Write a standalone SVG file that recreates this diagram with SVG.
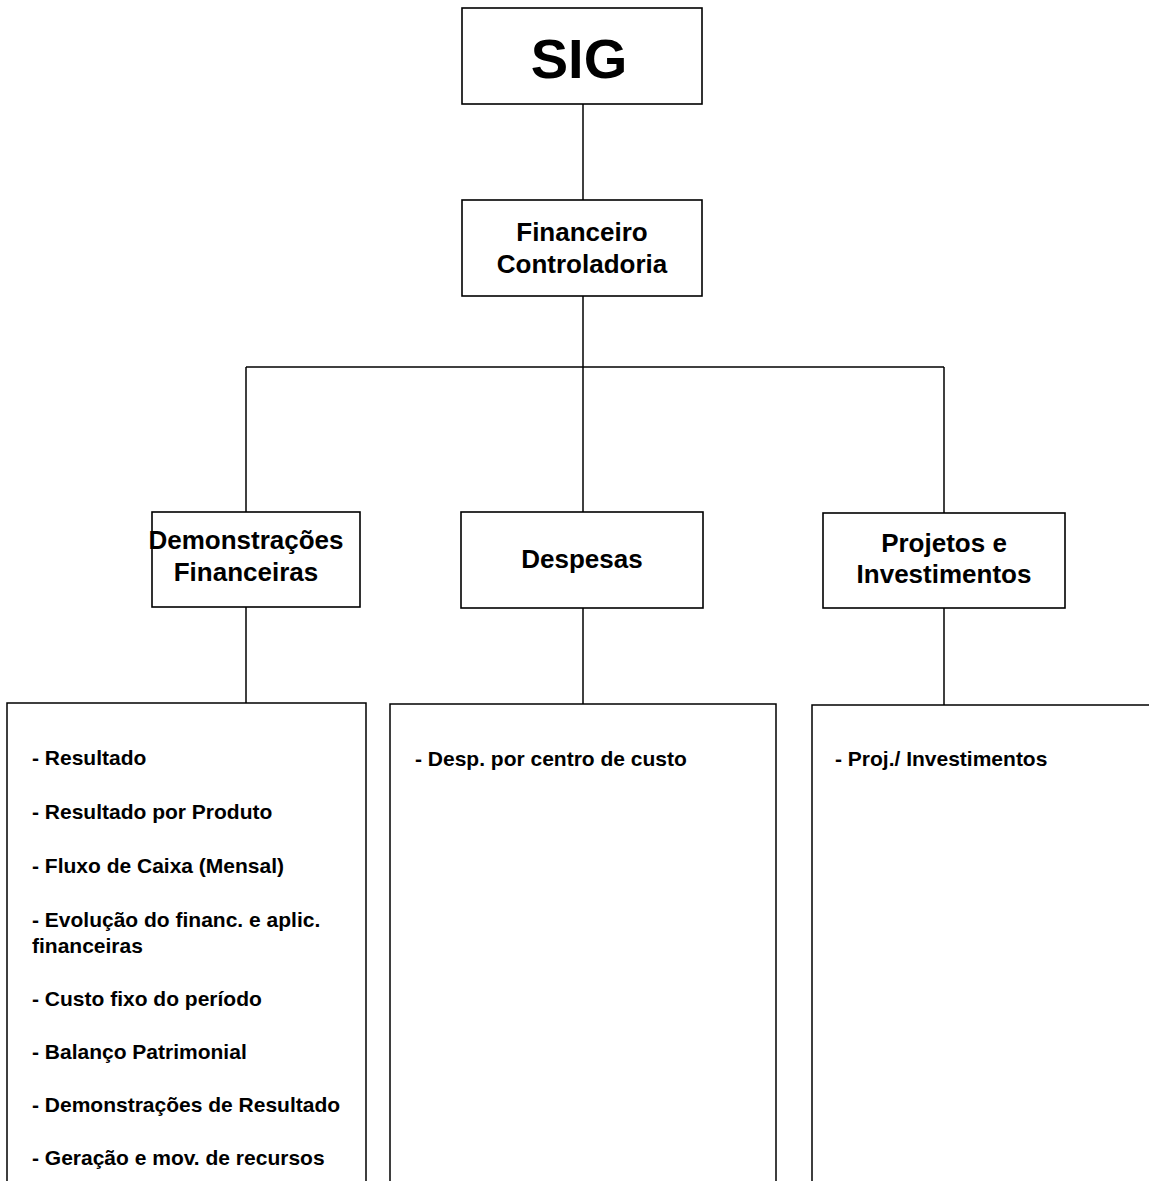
<svg xmlns="http://www.w3.org/2000/svg" width="1149" height="1181" viewBox="0 0 1149 1181">
<style>
.box{fill:#fff;stroke:#000;stroke-width:1.6}
.ln{fill:none;stroke:#000;stroke-width:1.5}
text{font-family:"Liberation Sans",Arial,sans-serif;font-weight:bold;fill:#000}
.h{font-size:26px;text-anchor:middle}
.t{font-size:21px}
</style>
<rect width="1149" height="1181" fill="#fff"/>
<g id="connectors">
<line class="ln" x1="583" y1="104" x2="583" y2="200"/>
<line class="ln" x1="583" y1="296" x2="583" y2="367"/>
<line class="ln" x1="246" y1="367" x2="944" y2="367"/>
<line class="ln" x1="246" y1="367" x2="246" y2="512"/>
<line class="ln" x1="583" y1="367" x2="583" y2="512"/>
<line class="ln" x1="944" y1="367" x2="944" y2="513"/>
<line class="ln" x1="246" y1="607" x2="246" y2="703"/>
<line class="ln" x1="583" y1="608" x2="583" y2="704"/>
<line class="ln" x1="944" y1="608" x2="944" y2="705"/>
</g>
<g id="sig">
<rect class="box" x="462" y="8" width="240" height="96"/>
<text x="579" y="78" style="font-size:56px;text-anchor:middle">SIG</text>
</g>
<g id="financeiro">
<rect class="box" x="462" y="200" width="240" height="96"/>
<text class="h" x="582" y="241">Financeiro</text>
<text class="h" x="582" y="273">Controladoria</text>
</g>
<g id="demonstracoes">
<rect class="box" x="152" y="512" width="208" height="95"/>
<text class="h" x="246" y="549">Demonstrações</text>
<text class="h" x="246" y="581">Financeiras</text>
</g>
<g id="despesas">
<rect class="box" x="461" y="512" width="242" height="96"/>
<text class="h" x="582" y="568">Despesas</text>
</g>
<g id="projetos">
<rect class="box" x="823" y="513" width="242" height="95"/>
<text class="h" x="944" y="552">Projetos e</text>
<text class="h" x="944" y="583">Investimentos</text>
</g>
<g id="lista-demonstracoes">
<path class="ln" d="M7 1185 V703 H366 V1185"/>
<text class="t" x="32" y="765">- Resultado</text>
<text class="t" x="32" y="819">- Resultado por Produto</text>
<text class="t" x="32" y="873">- Fluxo de Caixa (Mensal)</text>
<text class="t" x="32" y="927">- Evolução do financ. e aplic.</text>
<text class="t" x="32" y="953">financeiras</text>
<text class="t" x="32" y="1006">- Custo fixo do período</text>
<text class="t" x="32" y="1059">- Balanço Patrimonial</text>
<text class="t" x="32" y="1112">- Demonstrações de Resultado</text>
<text class="t" x="32" y="1165">- Geração e mov. de recursos</text>
</g>
<g id="lista-despesas">
<path class="ln" d="M390 1185 V704 H776 V1185"/>
<text class="t" x="415" y="766">- Desp. por centro de custo</text>
</g>
<g id="lista-projetos">
<path class="ln" d="M812 1185 V705 H1155"/>
<text class="t" x="835" y="766">- Proj./ Investimentos</text>
</g>
</svg>
